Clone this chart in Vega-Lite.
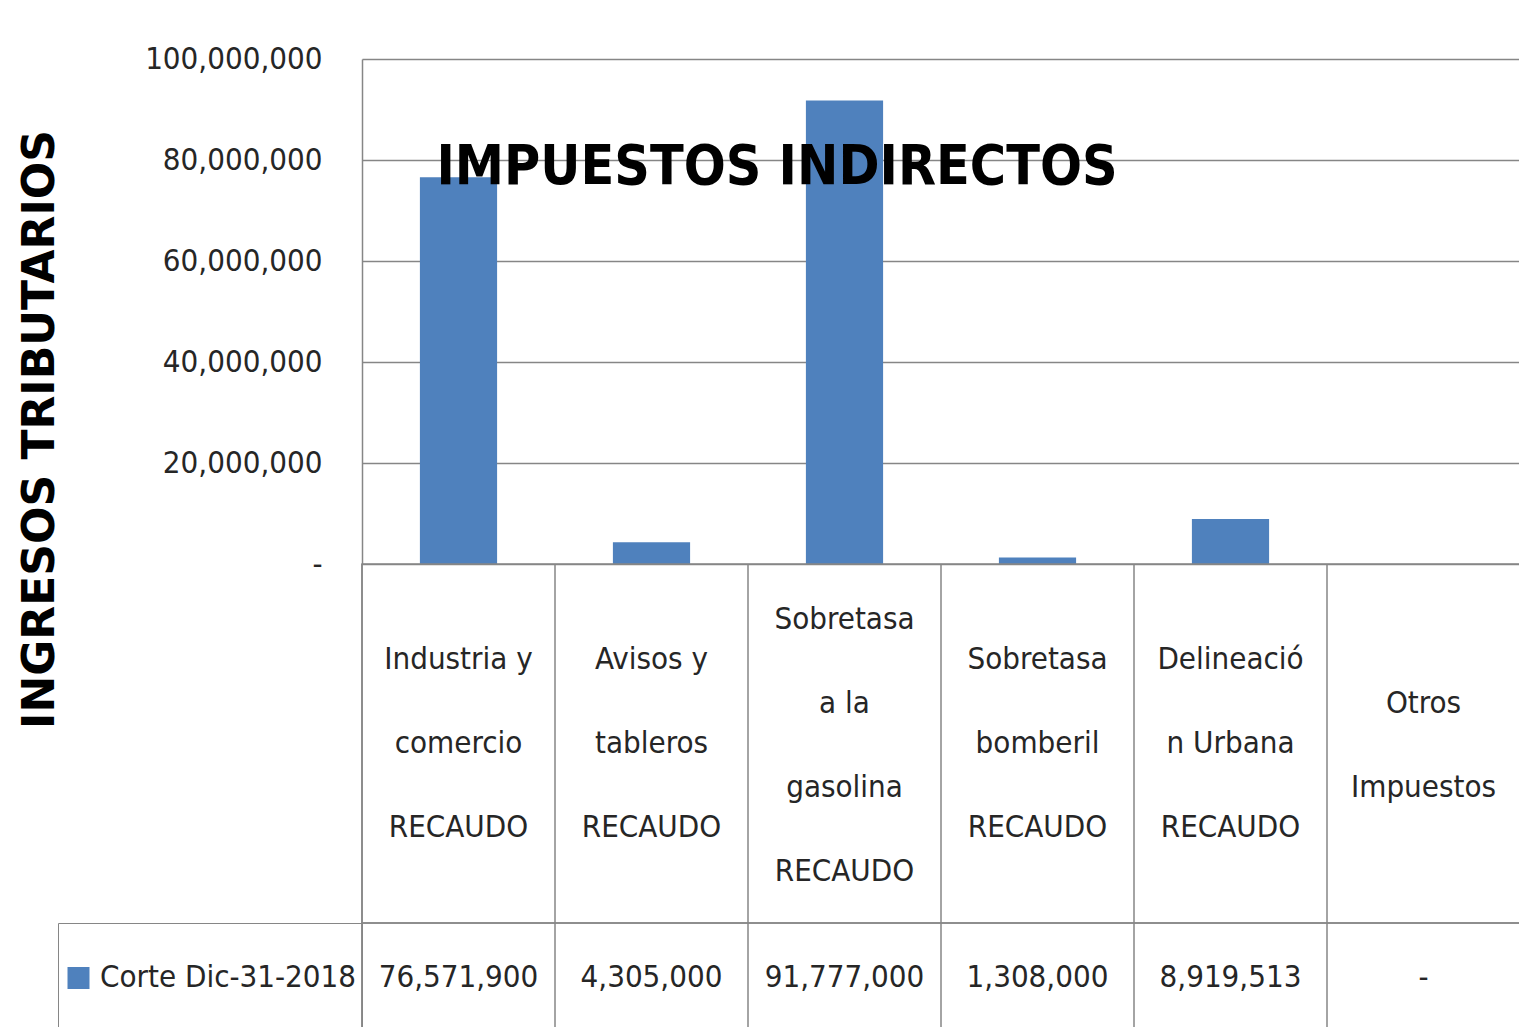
{
  "$schema": "https://vega.github.io/schema/vega-lite/v6.json",
  "background": "white",
  "padding": {"left": 18, "top": 43, "right": 0, "bottom": 0},
  "autosize": {"type": "pad"},
  "spacing": 0,
  "bounds": "flush",
  "resolve": {"scale": {"color": "independent"}, "legend": {"color": "independent"}},
  "datasets": {
    "d": [
      {"cat": "Industria y comercio RECAUDO", "label": "Industria y\ncomercio\nRECAUDO", "value": 76571900, "serie": "Corte Dic-31-2018"},
      {"cat": "Avisos y tableros RECAUDO", "label": "Avisos y\ntableros\nRECAUDO", "value": 4305000, "serie": "Corte Dic-31-2018"},
      {"cat": "Sobretasa a la gasolina RECAUDO", "label": "Sobretasa\na la\ngasolina\nRECAUDO", "value": 91777000, "serie": "Corte Dic-31-2018"},
      {"cat": "Sobretasa bomberil RECAUDO", "label": "Sobretasa\nbomberil\nRECAUDO", "value": 1308000, "serie": "Corte Dic-31-2018"},
      {"cat": "Delineación Urbana RECAUDO", "label": "Delineació\nn Urbana\nRECAUDO", "value": 8919513, "serie": "Corte Dic-31-2018"},
      {"cat": "Otros Impuestos", "label": "Otros\nImpuestos", "value": 0, "serie": "Corte Dic-31-2018"}
    ]
  },
  "vconcat": [
    {
      "width": 1158,
      "height": 505,
      "data": {"name": "d"},
      "view": {"stroke": null},
      "title": {
        "text": "IMPUESTOS INDIRECTOS",
        "font": "DejaVu Sans Condensed",
        "fontSize": 55,
        "fontWeight": "bold",
        "color": "#000000",
        "anchor": "middle",
        "frame": "bounds",
        "baseline": "bottom",
        "offset": -208,
        "dx": 8
      },
      "mark": {"type": "bar", "color": "#4F81BD", "width": {"band": 0.4}},
      "encoding": {
        "x": {"field": "cat", "type": "nominal", "sort": null, "scale": {"paddingInner": 0, "paddingOuter": 0}, "axis": null},
        "y": {
          "field": "value",
          "type": "quantitative",
          "scale": {"domain": [0, 100000000], "nice": false},
          "axis": {
            "values": [0, 20000000, 40000000, 60000000, 80000000, 100000000],
            "labelExpr": "datum.value == 0 ? '-' : format(datum.value, ',')",
            "title": "INGRESOS TRIBUTARIOS",
            "titleFont": "DejaVu Sans",
            "titleFontWeight": "bold",
            "titleFontSize": 44,
            "titleColor": "#000000",
            "titlePadding": 100,
            "titleY": 370,
            "labelFont": "DejaVu Sans Condensed",
            "labelFontSize": 31,
            "labelColor": "#262626",
            "labelPadding": 40,
            "labelLimit": 400,
            "labelFlush": false,
            "ticks": false,
            "domain": true,
            "domainColor": "#868686",
            "domainWidth": 1.5,
            "grid": true,
            "gridColor": "#868686",
            "gridWidth": 1.5
          }
        }
      }
    },
    {
      "width": 1158,
      "height": 359,
      "data": {"name": "d"},
      "view": {"stroke": "#868686", "strokeWidth": 1.5},
      "encoding": {
        "x": {"field": "cat", "type": "nominal", "sort": null, "scale": {"paddingInner": 0, "paddingOuter": 0}, "axis": null}
      },
      "layer": [
        {
          "mark": {"type": "rule", "color": "#868686", "strokeWidth": 1.5},
          "encoding": {
            "x": {"field": "cat", "type": "nominal", "sort": null, "bandPosition": 0, "scale": {"paddingInner": 0, "paddingOuter": 0}, "axis": null}
          }
        },
        {
          "transform": [{"filter": {"not": {"field": "cat", "oneOf": ["Sobretasa a la gasolina RECAUDO", "Otros Impuestos"]}}}],
          "mark": {"type": "text", "font": "DejaVu Sans Condensed", "fontSize": 31, "lineHeight": 84, "lineBreak": "\n", "color": "#262626", "baseline": "middle", "align": "center", "dy": -84},
          "encoding": {"text": {"field": "label", "type": "nominal"}}
        },
        {
          "transform": [{"filter": {"field": "cat", "equal": "Sobretasa a la gasolina RECAUDO"}}],
          "mark": {"type": "text", "font": "DejaVu Sans Condensed", "fontSize": 31, "lineHeight": 84, "lineBreak": "\n", "color": "#262626", "baseline": "middle", "align": "center", "dy": -124},
          "encoding": {"text": {"field": "label", "type": "nominal"}}
        },
        {
          "transform": [{"filter": {"field": "cat", "equal": "Otros Impuestos"}}],
          "mark": {"type": "text", "font": "DejaVu Sans Condensed", "fontSize": 31, "lineHeight": 84, "lineBreak": "\n", "color": "#262626", "baseline": "middle", "align": "center", "dy": -40},
          "encoding": {"text": {"field": "label", "type": "nominal"}}
        }
      ]
    },
    {
      "width": 1158,
      "height": 110,
      "data": {"name": "d"},
      "view": {"stroke": "#868686", "strokeWidth": 1.5},
      "encoding": {
        "x": {"field": "cat", "type": "nominal", "sort": null, "scale": {"paddingInner": 0, "paddingOuter": 0}, "axis": null}
      },
      "layer": [
        {
          "mark": {"type": "rule", "color": "#868686", "strokeWidth": 1.5},
          "encoding": {
            "x": {"field": "cat", "type": "nominal", "sort": null, "bandPosition": 0, "scale": {"paddingInner": 0, "paddingOuter": 0}, "axis": null}
          }
        },
        {
          "mark": {"type": "text", "font": "DejaVu Sans Condensed", "fontSize": 31, "color": "#262626", "baseline": "middle", "align": "center"},
          "encoding": {
            "text": {"condition": {"test": "datum.value == 0", "value": "-"}, "field": "value", "type": "quantitative", "format": ","}
          }
        },
        {
          "mark": {"type": "square", "opacity": 0},
          "encoding": {
            "color": {
              "field": "serie",
              "type": "nominal",
              "scale": {"range": ["#4F81BD"]},
              "legend": {
                "orient": "left",
                "offset": 0,
                "title": null,
                "symbolType": "square",
                "symbolSize": 484,
                "symbolOpacity": 1,
                "symbolStrokeWidth": 0,
                "labelFont": "DejaVu Sans Condensed",
                "labelFontSize": 31,
                "labelColor": "#262626",
                "labelLimit": 400,
                "labelOffset": 6,
                "padding": 5,
                "strokeColor": "#868686",
                "clipHeight": 100
              }
            }
          }
        }
      ]
    }
  ]
}
